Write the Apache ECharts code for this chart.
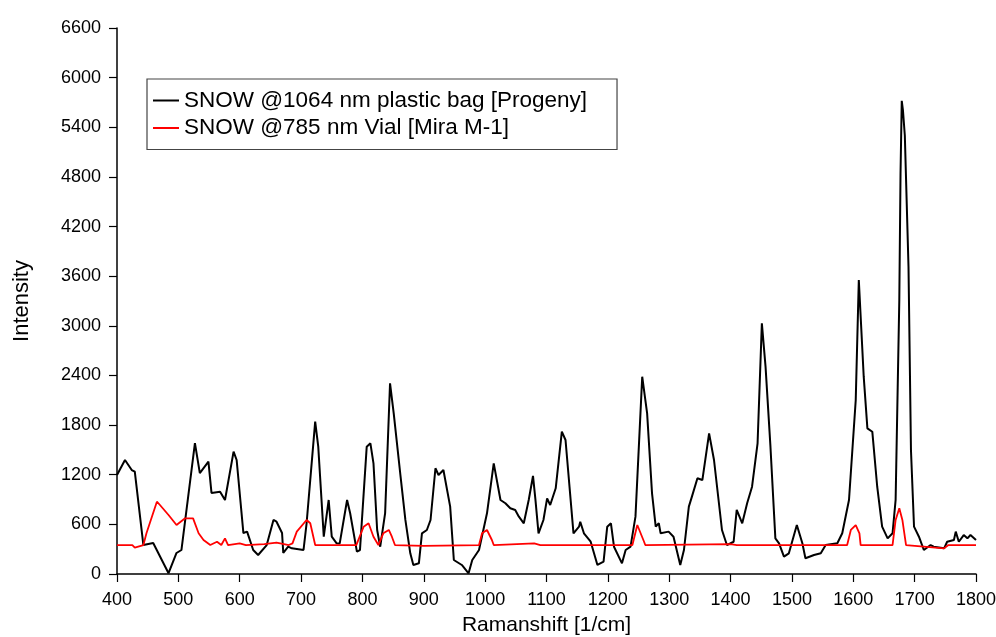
<!DOCTYPE html>
<html>
<head>
<meta charset="utf-8">
<script src="https://cdn.jsdelivr.net/npm/echarts@6/dist/echarts.min.js"></script>
<style>
  html, body { margin: 0; padding: 0; background: #fff; }
  #chart { width: 996px; height: 637px; }
</style>
</head>
<body>
<div id="chart"></div>
<script>
// 1064 nm spectrum (black)
const shift1064 = [400, 413, 424, 429, 443, 459, 484, 497, 505, 527, 535, 549, 554, 568, 576, 590, 595, 606, 612, 622, 630, 644, 655, 660, 669, 671, 679, 685, 704, 709, 723, 728, 737, 745, 750, 758, 763, 775, 780, 791, 796, 807, 813, 818, 824, 829, 837, 845, 851, 862, 870, 878, 883, 892, 897, 905, 911, 919, 924, 932, 943, 949, 962, 973, 979, 990, 1003, 1014, 1025, 1033, 1041, 1049, 1055, 1063, 1071, 1078, 1082, 1087, 1095, 1101, 1106, 1115, 1125, 1131, 1144, 1153, 1155, 1161, 1172, 1183, 1193, 1199, 1205, 1210, 1223, 1229, 1237, 1245, 1256, 1264, 1272, 1278, 1283, 1286, 1299, 1307, 1318, 1324, 1332, 1337, 1346, 1354, 1365, 1373, 1386, 1394, 1405, 1410, 1419, 1427, 1435, 1444, 1451, 1457, 1465, 1473, 1479, 1487, 1495, 1508, 1517, 1522, 1536, 1547, 1555, 1574, 1582, 1593, 1604, 1609, 1617, 1623, 1631, 1639, 1647, 1656, 1664, 1669, 1675, 1677, 1679, 1681, 1684, 1690, 1694, 1699, 1707, 1715, 1726, 1731, 1748, 1753, 1764, 1767, 1772, 1780, 1786, 1791, 1800];
const intensity1064 = [1197, 1378, 1257, 1237, 350, 375, 10, 254, 290, 1583, 1220, 1358, 980, 995, 895, 1479, 1378, 495, 512, 290, 230, 350, 653, 632, 495, 254, 330, 310, 290, 613, 1841, 1539, 451, 895, 451, 371, 370, 895, 734, 270, 290, 1539, 1580, 1338, 532, 330, 737, 2305, 1942, 1190, 653, 250, 109, 129, 492, 532, 653, 1278, 1197, 1257, 814, 169, 109, 8, 169, 290, 734, 1338, 895, 855, 794, 774, 693, 613, 895, 1185, 895, 492, 653, 915, 834, 1036, 1720, 1620, 492, 572, 632, 492, 390, 109, 149, 572, 613, 330, 129, 290, 330, 693, 2385, 1942, 975, 572, 613, 492, 512, 451, 109, 290, 814, 935, 1157, 1136, 1700, 1378, 532, 350, 390, 774, 613, 855, 1055, 1580, 3030, 2506, 1539, 431, 371, 210, 250, 592, 371, 190, 230, 250, 350, 371, 492, 895, 2103, 3554, 2385, 1761, 1720, 1055, 572, 431, 492, 895, 3312, 4845, 5720, 5600, 5300, 3714, 1499, 572, 451, 290, 350, 330, 310, 390, 411, 512, 390, 471, 431, 471, 411];

// 785 nm spectrum (red)
const shift785 = [400, 425, 429, 443, 448, 465, 470, 484, 497, 511, 524, 533, 541, 552, 563, 570, 576, 581, 600, 610, 640, 660, 680, 686, 693, 709, 715, 723, 790, 802, 810, 818, 826, 834, 843, 848, 853, 900, 990, 995, 1003, 1011, 1014, 1080, 1090, 1240, 1248, 1259, 1261, 1400, 1410, 1590, 1596, 1604, 1610, 1612, 1664, 1669, 1675, 1680, 1686, 1748, 1755, 1800];
const intensity785 = [350, 350, 320, 350, 492, 874, 834, 713, 592, 673, 673, 492, 411, 350, 390, 350, 431, 350, 370, 350, 360, 380, 350, 370, 512, 653, 613, 350, 350, 572, 613, 451, 350, 492, 532, 451, 350, 340, 350, 492, 532, 411, 350, 370, 350, 350, 592, 390, 350, 360, 350, 350, 532, 592, 491, 350, 350, 653, 794, 653, 350, 310, 350, 350];

const xTicks = [400, 1800, 100];
const yTicks = [0, 6600, 600];

function pairs(xs, ys) {
    return xs.map((x, i) => [x, ys[i]])
}

const font = 'Liberation Sans, Arial, sans-serif';
const myChart = echarts.init(document.getElementById('chart'));
const option = {
    animation: false,
    textStyle: { fontFamily: font },
    grid: { left: 117, right: 20, top: 28, bottom: 63, outerBoundsMode: 'none', containLabel: false },
    legend: {
        orient: 'vertical',
        left: 147,
        top: 79,
        padding: [10, 30, 10, 6],
        itemGap: 4.5,
        itemWidth: 26,
        itemHeight: 2,
        itemTextGap: 5,
        icon: 'rect',
        borderColor: '#444',
        borderWidth: 1.2,
        textStyle: { fontSize: 22.5, color: '#000', fontFamily: font },
        data: ['SNOW @1064 nm plastic bag [Progeny]', 'SNOW @785 nm Vial [Mira M-1]'],
    },
    xAxis: {
        type: 'value',
        min: xTicks[0],
        max: xTicks[1],
        interval: xTicks[2],
        name: 'Ramanshift [1/cm]',
        nameLocation: 'middle',
        nameGap: 41,
        nameTextStyle: { fontSize: 21, color: '#000' },
        axisLine: { lineStyle: { color: '#000', width: 1.5 } },
        axisTick: { length: 8, lineStyle: { color: '#000', width: 1.2 } },
        axisLabel: { fontSize: 18, color: '#000', margin: 17, formatter: v => String(v) },
        splitLine: { show: false },
    },
    yAxis: {
        type: 'value',
        min: yTicks[0],
        max: yTicks[1],
        interval: yTicks[2],
        name: 'Intensity',
        nameLocation: 'middle',
        nameGap: 84,
        nameTextStyle: { fontSize: 22, color: '#000' },
        axisLine: { show: true, lineStyle: { color: '#000', width: 1.5 } },
        axisTick: { show: true, length: 8, lineStyle: { color: '#000', width: 1.2 } },
        axisLabel: { fontSize: 18, color: '#000', margin: 16, formatter: v => String(v) },
        splitLine: { show: false },
    },
    series: [
        {
            type: 'line',
            name: 'SNOW @1064 nm plastic bag [Progeny]',
            data: pairs(shift1064, intensity1064),
            showSymbol: false,
            color: '#000',
            lineStyle: { width: 2, color: '#000' },
            z: 2,
        },
        {
            type: 'line',
            name: 'SNOW @785 nm Vial [Mira M-1]',
            data: pairs(shift785, intensity785),
            showSymbol: false,
            color: '#ff0000',
            lineStyle: { width: 1.8, color: '#ff0000' },
            z: 3,
        },
    ],
}
myChart.setOption(option)
</script>
</body>
</html>
